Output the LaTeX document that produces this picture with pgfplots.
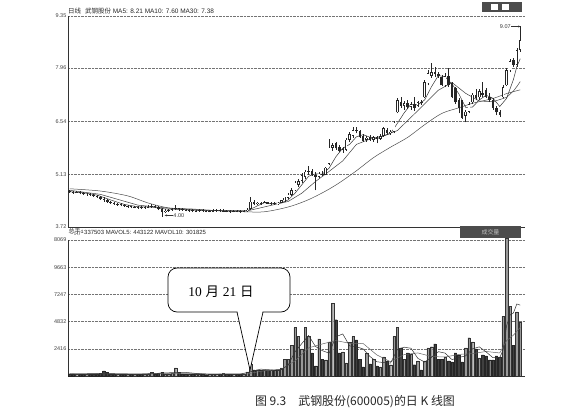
\documentclass[border=0pt]{standalone}
\usepackage{pgfplots}
\pgfplotsset{compat=1.18}
\usepackage{pgfplotstable}
\usepackage{fontspec}
\setmainfont{Liberation Sans}
\newfontfamily\cjk{Noto Sans CJK SC}
\newfontfamily\sernum{Liberation Serif}
\usetikzlibrary{arrows.meta}

\pgfplotstableread{
i o h l c v
0 4.69 4.72 4.63 4.66 200
1 4.66 4.69 4.61 4.64 180
2 4.62 4.68 4.60 4.65 150
3 4.65 4.67 4.59 4.62 160
4 4.62 4.65 4.57 4.60 140
5 4.58 4.64 4.56 4.61 170
6 4.61 4.63 4.55 4.58 150
7 4.58 4.60 4.52 4.55 160
8 4.55 4.58 4.49 4.52 200
9 4.52 4.54 4.45 4.48 250
10 4.48 4.52 4.40 4.45 450
11 4.45 4.47 4.37 4.40 300
12 4.40 4.42 4.33 4.36 200
13 4.36 4.39 4.31 4.34 180
14 4.31 4.36 4.29 4.33 150
15 4.33 4.35 4.27 4.30 160
16 4.30 4.33 4.25 4.28 140
17 4.25 4.30 4.23 4.27 150
18 4.27 4.29 4.22 4.25 130
19 4.24 4.29 4.22 4.26 140
20 4.26 4.28 4.21 4.24 160
21 4.25 4.27 4.20 4.23 150
22 4.23 4.28 4.21 4.25 140
23 4.24 4.30 4.22 4.26 200
24 4.26 4.33 4.24 4.28 300
25 4.28 4.30 4.22 4.25 180
26 4.25 4.27 4.17 4.20 250
27 4.20 4.22 4.00 4.12 320
28 4.12 4.19 4.09 4.16 200
29 4.16 4.21 4.13 4.18 180
30 4.18 4.24 4.15 4.20 250
31 4.20 4.30 4.17 4.22 720
32 4.22 4.24 4.16 4.19 300
33 4.20 4.22 4.15 4.18 200
34 4.18 4.20 4.14 4.16 150
35 4.15 4.19 4.13 4.17 140
36 4.17 4.19 4.12 4.15 130
37 4.14 4.18 4.12 4.16 150
38 4.15 4.20 4.13 4.17 140
39 4.17 4.19 4.12 4.15 130
40 4.16 4.18 4.11 4.14 120
41 4.13 4.18 4.11 4.15 140
42 4.14 4.19 4.12 4.16 150
43 4.15 4.20 4.13 4.17 130
44 4.17 4.20 4.12 4.15 200
45 4.14 4.20 4.12 4.16 240
46 4.16 4.18 4.11 4.14 150
47 4.15 4.17 4.10 4.13 130
48 4.13 4.18 4.11 4.15 140
49 4.16 4.18 4.11 4.14 150
50 4.15 4.17 4.10 4.13 160
51 4.13 4.18 4.11 4.15 200
52 4.15 4.22 4.13 4.18 360
53 4.20 4.52 4.18 4.40 1070
54 4.40 4.44 4.30 4.33 540
55 4.33 4.40 4.30 4.37 560
56 4.37 4.40 4.32 4.35 520
57 4.35 4.42 4.33 4.38 540
58 4.38 4.40 4.33 4.34 500
59 4.34 4.39 4.31 4.36 540
60 4.36 4.40 4.32 4.33 520
61 4.33 4.38 4.31 4.37 560
62 4.37 4.45 4.35 4.43 720
63 4.43 4.52 4.40 4.50 1500
64 4.50 4.62 4.47 4.58 1500
65 4.58 4.75 4.55 4.70 2700
66 4.70 4.95 4.68 4.90 4300
67 4.85 5.00 4.80 4.95 3500
68 4.95 5.15 4.90 5.10 2400
69 5.05 5.25 5.00 5.20 4300
70 5.20 5.35 5.12 5.22 3500
71 5.22 5.28 5.08 5.12 2050
72 5.12 5.20 4.70 5.05 900
73 5.05 5.18 5.02 5.14 3300
74 5.14 5.22 5.08 5.12 1500
75 5.12 5.32 5.10 5.30 1430
76 5.40 6.08 5.38 5.84 3040
77 5.84 5.95 5.75 5.90 6450
78 5.95 6.00 5.78 5.82 5000
79 5.85 5.92 5.72 5.75 2050
80 5.75 5.85 5.70 5.80 2150
81 5.78 6.10 5.75 6.05 1160
82 6.05 6.25 6.00 6.20 3000
83 6.15 6.38 6.10 6.30 3500
84 6.30 6.40 6.22 6.28 3200
85 6.28 6.32 6.10 6.12 1500
86 6.15 6.20 6.00 6.02 800
87 6.05 6.15 6.00 6.10 2050
88 6.12 6.18 6.02 6.05 1070
89 6.05 6.15 6.00 6.12 1500
90 6.12 6.15 5.95 6.08 900
91 6.08 6.20 6.05 6.15 800
92 6.15 6.38 6.12 6.35 1700
93 6.30 6.35 6.18 6.22 1340
94 6.22 6.30 6.18 6.26 1000
95 6.26 6.55 6.22 6.50 3500
96 6.78 7.15 6.75 7.10 4300
97 7.05 7.20 6.90 6.95 2500
98 6.95 7.08 6.85 7.02 1500
99 7.02 7.10 6.88 6.92 2050
100 6.92 7.05 6.85 7.00 1960
101 7.00 7.18 6.82 6.90 1000
102 6.95 7.08 6.92 7.05 1340
103 7.05 7.12 6.98 7.02 540
104 7.18 7.65 7.15 7.58 1340
105 7.55 7.90 7.50 7.82 2500
106 7.75 8.09 7.70 7.85 2600
107 7.85 7.98 7.72 7.80 2860
108 7.80 7.85 7.70 7.75 1500
109 7.72 7.78 7.48 7.50 1500
110 7.50 7.82 7.45 7.75 1700
111 7.75 7.95 7.45 7.50 1340
112 7.55 7.60 7.15 7.18 1250
113 7.42 7.45 7.00 7.05 2050
114 7.10 7.15 6.75 6.90 1880
115 7.10 7.12 6.60 6.64 1250
116 6.68 6.85 6.51 6.80 2500
117 6.80 7.05 6.75 7.00 3400
118 7.05 7.30 7.00 7.25 3040
119 7.25 7.40 7.10 7.15 2400
120 7.18 7.40 7.12 7.35 1600
121 7.30 7.58 7.20 7.25 1880
122 7.37 7.42 7.15 7.18 1790
123 7.20 7.30 7.05 7.10 1430
124 7.10 7.15 6.85 6.90 1430
125 6.90 6.95 6.70 6.78 1790
126 6.80 6.85 6.65 6.72 1700
127 7.18 7.50 7.15 7.45 5300
128 7.50 7.95 7.48 7.90 12250
129 7.90 8.20 7.85 8.15 6200
130 8.17 8.22 7.98 8.05 2700
131 8.05 8.50 8.00 8.44 5700
132 8.44 9.07 8.40 8.71 4800
}\kdata

\pgfplotstableread{
i m
0 4.66
4 4.634
8 4.572
12 4.442
16 4.322
20 4.26
24 4.252
28 4.202
32 4.19
36 4.17
40 4.154
44 4.154
48 4.146
52 4.15
53 4.20
54 4.238
55 4.286
56 4.326
57 4.366
58 4.354
60 4.352
62 4.366
64 4.442
66 4.622
68 4.846
70 5.074
72 5.138
74 5.13
76 5.29
78 5.596
80 5.822
82 5.924
84 6.126
86 6.184
88 6.114
90 6.074
92 6.15
94 6.212
96 6.486
98 6.766
100 6.998
102 6.978
104 7.11
106 7.464
108 7.76
110 7.73
112 7.536
114 7.276
116 6.914
118 6.918
120 7.11
122 7.236
124 7.156
126 6.936
128 7.15
130 7.654
131 7.998
132 8.21
}\mafive

\pgfplotstableread{
i m
0 4.70
9 4.591
20 4.303
30 4.213
40 4.169
52 4.15
56 4.233
60 4.319
64 4.401
68 4.622
72 4.932
76 5.204
80 5.484
84 5.924
88 6.067
92 6.157
96 6.293
100 6.647
104 7.004
108 7.369
112 7.575
116 7.287
120 7.082
124 7.062
128 7.178
130 7.348
131 7.467
132 7.60
}\maten

\pgfplotstableread{
i m
0 4.74
9 4.68
17 4.55
23 4.36
29 4.23
36 4.20
42 4.16
50 4.13
56 4.12
60 4.17
65 4.28
70 4.45
75 4.68
79 4.90
84 5.22
89 5.57
94 5.85
99 6.11
104 6.45
109 6.75
114 6.90
118 7.02
124 7.15
128 7.28
132 7.38
}\mathirty

\pgfplotstableread{
i m
0 180
10 220
20 160
30 300
34 320
40 140
50 170
53 380
56 610
60 524
62 568
64 960
66 2144
68 2880
70 3600
72 2630
74 2250
76 2034
78 3484
80 3738
82 2672
84 2602
86 2400
88 1724
90 1264
92 1194
94 1148
96 2368
98 2560
100 2462
102 1570
104 1236
106 1664
108 2160
110 2032
112 1458
114 1644
116 1786
118 2414
120 2588
122 2142
124 1626
126 1628
127 2330
128 4460
129 5414
130 5596
131 6396
132 6296
}\mavfive

\pgfplotstableread{
i m
0 190
10 200
20 180
30 230
40 200
52 180
56 420
62 607
66 1338
70 2498
74 2845
78 3147
82 2908
86 2881
90 1868
94 1266
98 1904
102 2049
106 1733
110 1688
114 1918
118 1991
122 2179
126 2046
128 3140
130 3630
132 4313
}\mavten

\begin{document}
\begin{tikzpicture}[x=1bp,y=1bp]
\useasboundingbox (0,0) rectangle (567,414);

% ---------------- price panel ----------------
\begin{axis}[
  at={(68bp,187bp)}, anchor=south west,
  scale only axis, width=457bp, height=211bp,
  xmin=-0.5, xmax=133.4, ymin=3.72, ymax=9.35,
  axis lines*=left, axis line style={-, black!80, line width=0.6bp},
  xtick=\empty,
  ytick={3.72,5.13,6.54,7.96,9.35},
  yticklabels={3.72,5.13,6.54,7.96,9.35},
  ymajorgrids, grid style={densely dotted, black!55, line width=0.5bp},
  major tick length=0pt,
  yticklabel style={font=\fontsize{5.5}{6}\selectfont, text=black!75, inner sep=1.5bp},
]
\addplot[black!70, line width=0.5bp, smooth] table[x=i,y=m]{\mathirty};
\addplot[black!75, line width=0.5bp] table[x=i,y=m]{\maten};
\addplot[black!80, line width=0.5bp] table[x=i,y=m]{\mafive};
% wicks
\addplot[draw=none, mark=none, error bars/.cd, y dir=plus, y explicit, error mark=none,
  error bar style={solid, line width=0.45bp, draw=black!85}]
  table[x=i, y=l, y error expr=\thisrow{h}-\thisrow{l}] {\kdata};
% bodies
\addplot[draw=none, mark=none, error bars/.cd, y dir=plus, y explicit, error mark=none,
  error bar style={solid, line width=2.5bp, draw=black!85}]
  table[x=i, y expr={min(\thisrow{o},\thisrow{c})}, y error expr={abs(\thisrow{c}-\thisrow{o})}] {\kdata};
% hollow up candles
\addplot[draw=none, mark=none, restrict expr to domain={\thisrow{c}-\thisrow{o}}{0.03:100},
  error bars/.cd, y dir=plus, y explicit, error mark=none,
  error bar style={solid, line width=1.3bp, draw=white}]
  table[x=i, y expr={\thisrow{o}+0.018}, y error expr={\thisrow{c}-\thisrow{o}-0.036}] {\kdata};
% annotations
\draw[black!80, line width=0.4bp, -{Stealth[length=2.5bp,width=2bp]}] (axis cs:30.2,4.03) -- (axis cs:27.8,4.03);
\node[anchor=west, inner sep=0.5bp, font=\fontsize{5.5}{6}\selectfont, text=black!80] at (axis cs:30.2,4.03) {4.00};
\draw[black!80, line width=0.4bp, -{Stealth[length=2.5bp,width=2bp]}] (axis cs:129.4,9.07) -- (axis cs:132.1,9.07);
\node[anchor=east, inner sep=0.5bp, font=\fontsize{5.5}{6}\selectfont, text=black!80] at (axis cs:129.4,9.07) {9.07};
\end{axis}

% ---------------- volume panel ----------------
\begin{axis}[
  at={(68bp,38bp)}, anchor=south west,
  scale only axis, width=457bp, height=136bp,
  xmin=-0.5, xmax=133.4, ymin=0, ymax=12079,
  axis lines*=left, axis line style={-, black!80, line width=0.6bp},
  xtick=\empty,
  ytick={2416,4832,7247,9663,12079},
  yticklabels={2416,4832,7247,9663,8069},
  ymajorgrids, grid style={densely dotted, black!55, line width=0.5bp},
  major tick length=0pt,
  yticklabel style={font=\fontsize{5.5}{6}\selectfont, text=black!75, inner sep=1.5bp},
  clip=false,
]
\addplot[ybar, bar shift=0pt, bar width=2.4bp, fill=black!40, draw=black!80, line width=0.3bp,
  restrict expr to domain={\thisrow{c}-\thisrow{o}}{0.001:100}]
  table[x=i,y=v]{\kdata};
\addplot[ybar, bar shift=0pt, bar width=2.4bp, fill=black!75, draw=black!85, line width=0.3bp,
  restrict expr to domain={\thisrow{c}-\thisrow{o}}{-100:0}]
  table[x=i,y=v]{\kdata};
\addplot[black!60, line width=0.5bp] table[x=i,y=m]{\mavten};
\addplot[black!80, line width=0.5bp] table[x=i,y=m]{\mavfive};
\end{axis}

% ---------------- headers ----------------
\node[anchor=west, inner sep=0pt, font=\fontsize{6.5}{7}\selectfont, text=black!85] at (68,403)
  {{\cjk 日线}\hspace{4bp}{\cjk 武钢股份} MA5: 8.21 MA10: 7.60 MA30: 7.38};
\fill[black!70] (482,402) rectangle (522,412);
\fill[white] (491,404) rectangle (498,410);
\fill[white] (502,404) rectangle (509,410);
\node[anchor=west, inner sep=0pt, font=\fontsize{6}{7}\selectfont, text=black!85] at (68.5,182.5)
  {\cjk 总手:};
\node[anchor=west, inner sep=0pt, font=\fontsize{6}{7}\selectfont, text=black!85] at (84,182)
  {337503 MAVOL5: 443122 MAVOL10: 301825};
\fill[black!70] (460,176) rectangle (521,188);
\node[font=\fontsize{6}{7}\selectfont\cjk, text=black!25] at (490.5,182) {成交量};

% ---------------- callout ----------------
\draw[fill=white, line width=0.7bp, rounded corners=9bp] (168,102) rectangle (290,146);
\fill[white] (237.3,103) -- (250,44) -- (262.7,103) -- cycle;
\draw[line width=0.7bp, line join=miter] (237,102) -- (250,44) -- (263,102);
\node[font=\fontsize{13.5}{14}\selectfont] at (221,122) {{\sernum 10} {\cjk 月} {\sernum 21} {\cjk 日}};

% ---------------- caption ----------------
\node[font=\fontsize{12}{13}\selectfont\cjk, text=black!85] at (355,12) {图 9.3\hspace{12bp}武钢股份(600005)的日 K 线图};
\end{tikzpicture}
\end{document}
